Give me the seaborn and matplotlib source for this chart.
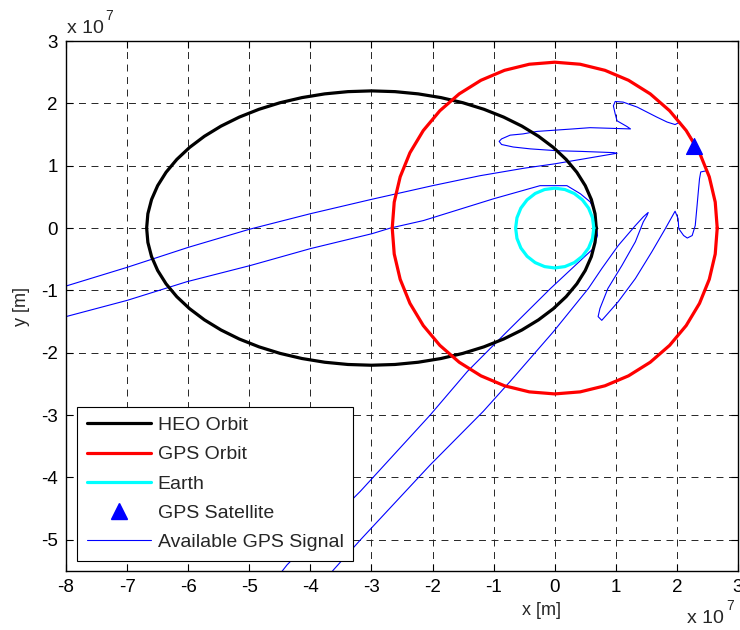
import numpy as np
import pandas as pd
import matplotlib
matplotlib.use("Agg")
import matplotlib.pyplot as plt
from matplotlib.lines import Line2D
from matplotlib.ticker import FixedLocator, FuncFormatter
import seaborn as sns

SCALE = 1e7  # all coordinates below are in units of 10^7 m

# Orbit geometry
heo_center = (-3.0, 0.0)
heo_semi_major = 3.68
heo_semi_minor = 2.20
gps_radius = 2.66
earth_radius = 0.64

# GPS satellite position
sat_x = [2.28]
sat_y = [1.32]

# Available GPS signal track, first pass (enters from the left, wraps over the Earth)
sig_a_x = [-8.0, -7.0, -6.02, -4.98, -4.0, -2.99, -2.69, -2.15, -1.0, -0.24,
           0.2, 0.42, 0.58, 0.66, 0.7, 0.63, -0.07, -0.78, -1.43, -2.04,
           -3.18, -4.38, -4.5]
sig_a_y = [-1.42, -1.16, -0.86, -0.6, -0.33, -0.09, 0.0, 0.12, 0.47, 0.68,
           0.68, 0.55, 0.42, 0.26, -0.12, -0.33, -0.97, -1.66, -2.30, -3.0,
           -4.22, -5.40, -5.55]

# Available GPS signal track, second pass (loops near the satellite)
sig_b_x = [-8.0, -7.0, -6.0, -5.0, -4.0, -3.0, -2.0, -1.22, -0.5, 0.0, 1.02,
           0.96, 0.42, 0.04, -0.40, -0.68, -0.87, -0.91, -0.87, -0.73, -0.52,
           -0.29, 0.30, 0.58, 1.24, 1.18, 1.02, 0.99, 0.96, 0.99, 1.12, 1.35,
           1.51, 1.67, 1.84, 1.97, 2.05, 2.16, 2.27, 2.38, 2.43, 2.49, 2.39,
           2.37, 2.35, 2.33, 2.30, 2.25, 2.17, 2.11, 2.03, 2.02, 1.97, 1.81,
           1.59, 1.32, 1.04, 0.87, 0.77, 0.71, 0.74, 0.87, 1.10, 1.32, 1.45,
           1.51, 1.53, 1.45, 1.32, 1.04, 0.77, 0.55, -0.02, -0.73, -1.17,
           -2.04, -3.18, -3.62, -3.72]
sig_b_y = [-0.93, -0.63, -0.31, -0.02, 0.23, 0.46, 0.68, 0.84, 0.96, 1.03, 1.20,
           1.21, 1.23, 1.24, 1.27, 1.30, 1.34, 1.39, 1.43, 1.49, 1.51,
           1.55, 1.59, 1.61, 1.59, 1.63, 1.72, 1.83, 1.96, 2.03, 2.02, 1.94,
           1.86, 1.78, 1.70, 1.66, 1.70, 1.56, 1.40, 1.22, 1.06, 0.92, 0.90,
           0.79, 0.58, 0.36, 0.04, -0.12, -0.16, -0.12, -0.01, 0.15, 0.27, -0.01,
           -0.38, -0.81, -1.18, -1.37, -1.48, -1.42, -1.29, -0.97, -0.60, -0.22, 0.10,
           0.20, 0.25, 0.18, 0.04, -0.28, -0.65, -0.97, -1.66, -2.46, -2.94,
           -3.80, -5.0, -5.48, -5.6]

x_ticks = list(range(-8, 4))
y_ticks = list(range(-5, 4))

sns.set_theme(style="white")
plt.rcParams["font.family"] = ["Liberation Sans", "DejaVu Sans"]
plt.rcParams["lines.scale_dashes"] = False

fig = plt.figure(figsize=(7.4, 6.3), dpi=100)
ax = fig.add_axes([66 / 740, 1 - 571 / 630, 672 / 740, 530 / 630])
ax.set_facecolor("white")


def ellipse_points(cx, cy, a, b, n):
    t = np.linspace(0, 2 * np.pi, n)
    return (cx + a * np.cos(t)) * SCALE, (cy + b * np.sin(t)) * SCALE


heo_x, heo_y = ellipse_points(heo_center[0], heo_center[1], heo_semi_major, heo_semi_minor, 61)
gps_x, gps_y = ellipse_points(0, 0, gps_radius, gps_radius, 41)
earth_x, earth_y = ellipse_points(0, 0, earth_radius, earth_radius, 25)

signal = pd.DataFrame({
    "x": np.r_[sig_a_x, sig_b_x] * SCALE,
    "y": np.r_[sig_a_y, sig_b_y] * SCALE,
    "pass": ["a"] * len(sig_a_x) + ["b"] * len(sig_b_x),
})

sns.lineplot(data=signal, x="x", y="y", units="pass", estimator=None, sort=False,
             color="#0000ff", lw=0.8, ax=ax, legend=False, zorder=2)
sns.lineplot(x=heo_x, y=heo_y, sort=False, estimator=None, color="black", lw=2.3,
             ax=ax, legend=False, zorder=3)
sns.lineplot(x=gps_x, y=gps_y, sort=False, estimator=None, color="#ff0000", lw=2.3,
             ax=ax, legend=False, zorder=3)
sns.lineplot(x=earth_x, y=earth_y, sort=False, estimator=None, color="#00ffff", lw=2.3,
             ax=ax, legend=False, zorder=3)
sns.scatterplot(x=np.array(sat_x) * SCALE, y=np.array(sat_y) * SCALE, marker="^",
                s=130, color="#0000ff", edgecolor="#0000ff", ax=ax, zorder=4, legend=False)

ax.set_xlim(-8 * SCALE, 3 * SCALE)
ax.set_ylim(-5.5 * SCALE, 3 * SCALE)
ax.xaxis.set_major_locator(FixedLocator([v * SCALE for v in x_ticks]))
ax.yaxis.set_major_locator(FixedLocator([v * SCALE for v in y_ticks]))
fmt = FuncFormatter(lambda v, p: f"{v / SCALE:g}")
ax.xaxis.set_major_formatter(fmt)
ax.yaxis.set_major_formatter(fmt)

ax.grid(True, color="0.15", linestyle=(0, (5, 4)), linewidth=0.7, zorder=1)
ax.set_axisbelow(True)
for s in ax.spines.values():
    s.set_color("black")
    s.set_linewidth(1.0)
    s.set_visible(True)
ax.tick_params(direction="in", length=5, width=0.8, colors="black", labelsize=13.5,
               top=True, right=True, bottom=True, left=True, pad=6)

ax.set_xlabel("x [m]", fontsize=13)
ax.set_ylabel("y [m]", fontsize=13)
ax.xaxis.set_label_coords((542 - 66) / 672, -0.058)
ax.yaxis.set_label_coords((22 - 66) / 672 + 0.012, 0.5)

# Exponent markers for both axes
fig.text(67 / 740, 1 - 33 / 630, "x 10", fontsize=14, ha="left", va="baseline")
fig.text(105 / 740, 1 - 20 / 630, "7", fontsize=10, ha="left", va="baseline")
fig.text(687 / 740, 1 - 623 / 630, "x 10", fontsize=14, ha="left", va="baseline")
fig.text(726 / 740, 1 - 610 / 630, "7", fontsize=10, ha="left", va="baseline")

handles = [
    Line2D([], [], color="black", lw=2.3),
    Line2D([], [], color="#ff0000", lw=2.3),
    Line2D([], [], color="#00ffff", lw=2.3),
    Line2D([], [], color="#0000ff", lw=0, marker="^", markersize=11),
    Line2D([], [], color="#0000ff", lw=0.8),
]
labels = ["HEO Orbit", "GPS Orbit", "Earth", "GPS Satellite", "Available GPS Signal"]
leg = ax.legend(handles, labels, loc="lower left", bbox_to_anchor=(11 / 672, 10 / 530),
                borderaxespad=0, fontsize=14, frameon=True, fancybox=False,
                framealpha=1, edgecolor="black", handlelength=3.3, handletextpad=0.35,
                labelspacing=0.6, borderpad=0.5, handleheight=0.7)
leg.get_frame().set_linewidth(0.8)
leg.set_zorder(10)

fig.savefig("out.png", dpi=100, facecolor="white")
